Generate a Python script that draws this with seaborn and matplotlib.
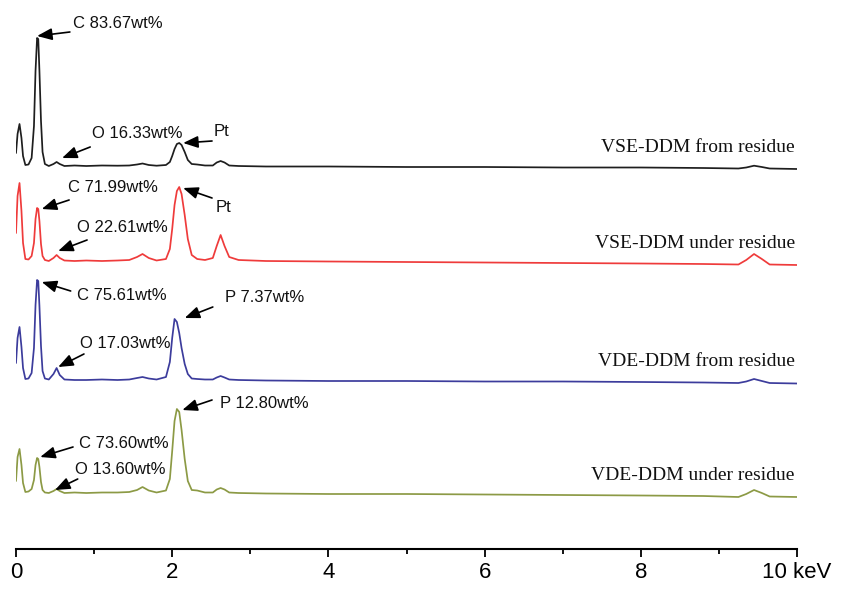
import pandas as pd
import seaborn as sns
import matplotlib.pyplot as plt
from matplotlib import font_manager
from matplotlib.ticker import MultipleLocator

# energy grid (keV) shared by the four spectra
energy = [0.00, 0.02, 0.045, 0.07, 0.09, 0.12, 0.16, 0.20, 0.23, 0.25,
          0.27, 0.285, 0.30, 0.32, 0.34, 0.37, 0.42, 0.48, 0.52, 0.56,
          0.62, 0.75, 0.90, 1.10, 1.30, 1.45, 1.55, 1.62, 1.70, 1.80,
          1.92, 1.97, 2.00, 2.03, 2.06, 2.09, 2.12, 2.16, 2.20, 2.25,
          2.32, 2.42, 2.52, 2.57, 2.62, 2.67, 2.73, 2.85, 3.20, 4.00,
          5.00, 6.00, 7.00, 8.00, 8.80, 9.25, 9.35, 9.45, 9.55, 9.65,
          10.00]

# counts above each spectrum's own baseline (arbitrary units)
vse_from = [13, 32, 42, 28, 10, 1, 1.5, 8, 40, 95,
            128, 127, 95, 45, 14, 2, 0, 2, 4, 2,
            0, 0.5, 0, 0.5, 0.3, 0.5, 1.5, 2.5, 1, 0.3,
            1, 4, 10, 17, 22, 23, 21, 14, 6, 2,
            1.5, 0.5, 0.5, 3.5, 5, 3.5, 0.5, 0, -0.5, -0.5,
            -1, -1, -1.5, -1.5, -2, -2.5, -1.5, 0.3, -1, -2.5,
            -3]
vse_under = [28, 65, 78, 50, 18, 2, 1.5, 5, 18, 42,
             53, 52, 40, 17, 5, 1, 0, 3, 6, 3,
             0.5, 0, 0.5, 0, 0.5, 1, 4, 7, 3, 0.5,
             2, 12, 32, 56, 70, 74, 67, 46, 22, 6,
             2, 1, 3, 15, 26, 15, 4, 1, 0, -0.5,
             -1, -1.5, -2, -2.5, -3, -3.5, 1, 7, 2, -3.5,
             -4]
vde_from = [17, 42, 53, 33, 12, 1, 1.5, 7, 32, 75,
            100, 99, 74, 34, 9, 1.5, 0.5, 6, 12, 5,
            0.5, 0, 0, 0.5, 0, 0.5, 2, 3, 1.5, 0.5,
            3, 18, 42, 61, 58, 47, 32, 16, 6, 1.5,
            1, 0.5, 0.5, 2.5, 4, 2.5, 0.5, 0, -0.5, -1,
            -1, -1.5, -1.5, -2, -2.5, -3, -1.5, 1, -1, -3,
            -3.5]
vde_under = [12, 36, 44, 28, 10, 1, 1.5, 4, 13, 28,
             35, 34, 26, 11, 3, 0.5, 0, 2, 4, 2,
             0, 0.5, 0, 0.5, 0.5, 1, 3, 6, 2.5, 0.5,
             2.5, 14, 42, 72, 84, 81, 63, 34, 12, 3,
             2.5, 0.5, 0.5, 3.5, 5, 3.5, 0.5, 0, -0.5, -1,
             -1, -1.5, -2, -2.5, -3, -4, -1, 3, 0, -3.5,
             -4]

samples = ['VSE-DDM from residue', 'VSE-DDM under residue',
           'VDE-DDM from residue', 'VDE-DDM under residue']
offsets = [383, 288, 169, 56]
colors = ['#1e1e1e', '#ef3b3b', '#3c3c9c', '#8c9a45']

# (label, arrow head, arrow tail, text anchor) in data coords
notes = [
    ('C 83.67wt%', (0.27, 513), (0.69, 517), (0.73, 526)),
    ('O 16.33wt%', (0.59, 391), (0.95, 402), (0.97, 416)),
    ('Pt', (2.14, 406), (2.51, 408), (2.535, 417)),
    ('C 71.99wt%', (0.33, 340), (0.68, 349), (0.67, 361)),
    ('O 22.61wt%', (0.54, 298), (0.91, 309), (0.78, 321)),
    ('Pt', (2.14, 361), (2.51, 351), (2.55, 342)),
    ('C 75.61wt%', (0.33, 267), (0.70, 258), (0.78, 254)),
    ('O 17.03wt%', (0.54, 182), (0.87, 195), (0.82, 206)),
    ('P 7.37wt%', (2.16, 231), (2.52, 242), (2.68, 252)),
    ('C 73.60wt%', (0.31, 92), (0.73, 102), (0.81, 105)),
    ('O 13.60wt%', (0.50, 59), (0.79, 70), (0.755, 79)),
    ('P 12.80wt%', (2.13, 139), (2.51, 149), (2.61, 145)),
]

frames = []
for name, counts, off in zip(samples, [vse_from, vse_under, vde_from, vde_under], offsets):
    frames.append(pd.DataFrame({'energy': energy,
                                'signal': [c + off for c in counts],
                                'sample': name}))
df = pd.concat(frames, ignore_index=True)

sns.set_theme(style='white')
plt.rcParams['font.family'] = ['Liberation Sans', 'DejaVu Sans']

installed = {f.name for f in font_manager.fontManager.ttflist}
tick_family = 'Liberation Sans Narrow' if 'Liberation Sans Narrow' in installed else 'Liberation Sans'
tick_size = 18 if tick_family == 'Liberation Sans Narrow' else 16

fig = plt.figure(figsize=(8.57, 5.93), dpi=100)
ax = fig.add_axes([16 / 857, 44 / 593, 781 / 857, 549 / 593])

sns.lineplot(data=df, x='energy', y='signal', hue='sample', palette=colors,
             hue_order=samples, estimator=None, legend=False, lw=1.25, ax=ax)

for name, off in zip(samples, offsets):
    ax.text(9.97, off + 18, name, ha='right', va='center', fontsize=14,
            family=['Liberation Serif', 'DejaVu Serif'], color='#111111')

for label, head, tail, txt in notes:
    ax.annotate('', xy=head, xytext=tail,
                arrowprops=dict(arrowstyle='-|>,head_length=1.0,head_width=0.4',
                                mutation_scale=9, color='black', lw=1.2,
                                shrinkA=0, shrinkB=0))
    ax.text(txt[0], txt[1], label, ha='left', va='center', fontsize=12,
            color='#111111')

ax.set_xlim(0, 10)
ax.set_ylim(0, 549)
ax.set_xlabel('')
ax.set_ylabel('')
ax.set_yticks([])
for side in ['left', 'right', 'top']:
    ax.spines[side].set_visible(False)
ax.spines['bottom'].set_linewidth(1.5)
ax.spines['bottom'].set_color('black')
ax.set_xticks([0, 2, 4, 6, 8, 10])
ax.set_xticklabels(['0', '2', '4', '6', '8', '10 keV'], family=tick_family)
ax.xaxis.set_minor_locator(MultipleLocator(1))
ax.tick_params(axis='x', which='major', direction='out', length=6, width=1.3,
               labelsize=tick_size, pad=3, bottom=True, colors='black')
ax.tick_params(axis='x', which='minor', direction='out', length=3.5, width=1.3,
               bottom=True, colors='black')
ax.patch.set_alpha(0)

fig.savefig('out.png', dpi=100)
